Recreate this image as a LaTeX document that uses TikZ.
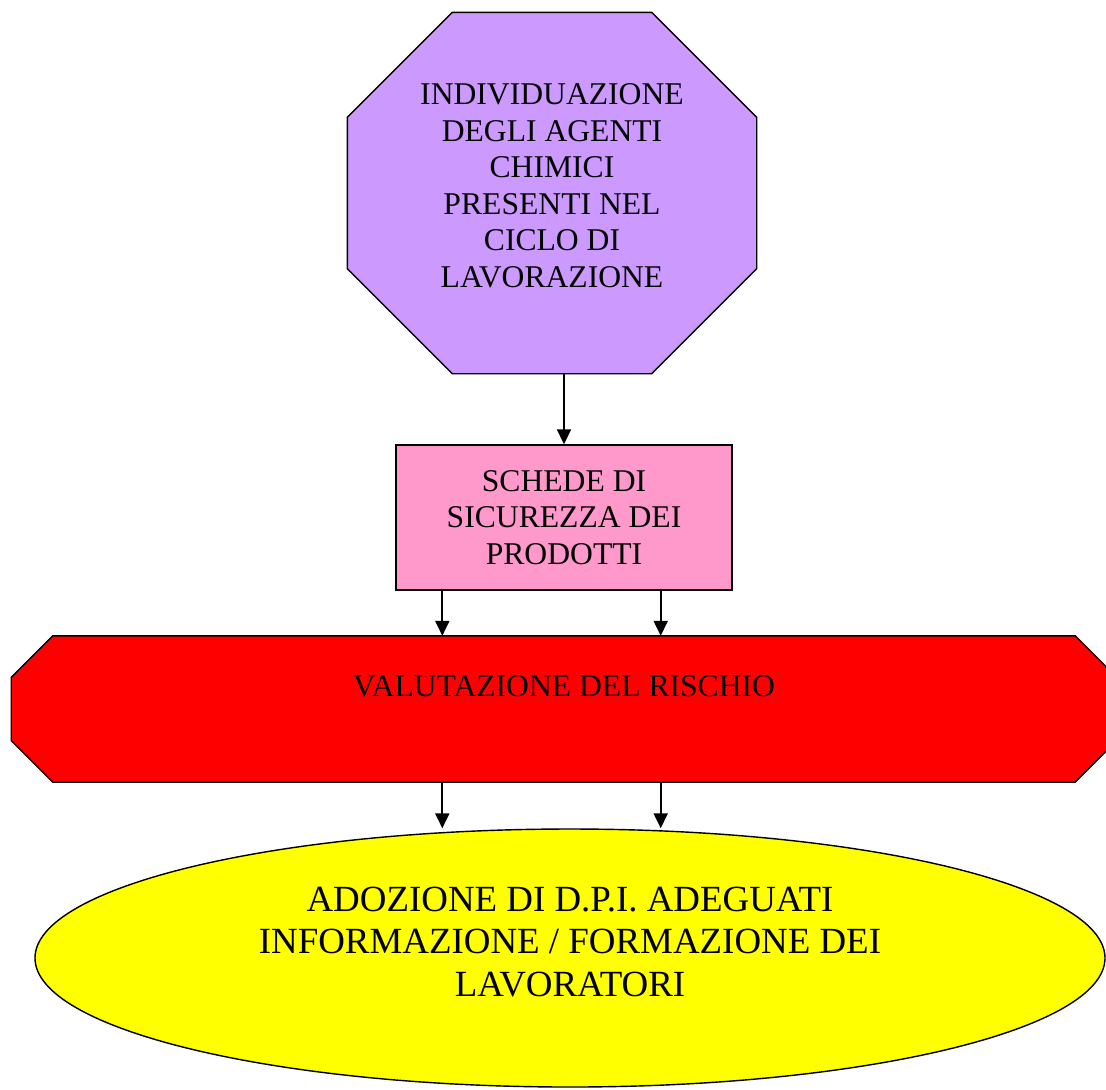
\documentclass[tikz,border=0pt]{standalone}
\usepackage{fontspec}
\setmainfont{Liberation Serif}
\usetikzlibrary{shapes.geometric, arrows.meta, positioning, calc}

\definecolor{lilla}{HTML}{CC99FF}
\definecolor{rosa}{HTML}{FF99CC}
\definecolor{rosso}{HTML}{FF0000}
\definecolor{giallo}{HTML}{FFFF00}

\pgfdeclarelayer{sfondo}
\pgfsetlayers{sfondo,main}

% bordo smussato dietro un nodo: #1 nodo, #2 smusso, #3 colore
\newcommand{\smussa}[3]{%
  \begin{pgfonlayer}{sfondo}
  \draw[line width=0.8pt, fill=#3] ([xshift=#2]#1.north west) -- ([xshift=-#2]#1.north east)
    -- ([yshift=-#2]#1.north east) -- ([yshift=#2]#1.south east)
    -- ([xshift=-#2]#1.south east) -- ([xshift=#2]#1.south west)
    -- ([yshift=#2]#1.south west) -- ([yshift=-#2]#1.north west) -- cycle;
  \end{pgfonlayer}}

\begin{document}
\begin{tikzpicture}[
    box/.style={line width=0.8pt, align=center, inner sep=0pt,
        font=\fontsize{18}{20.8}\selectfont},
    freccia/.style={-{Triangle[width=0.28cm, length=0.3cm]}, line width=1.1pt}
]
\useasboundingbox (0,0) rectangle (22.12,-21.78);

% Agenti chimici
\node[box, minimum width=8.16cm, minimum height=7.2cm, text depth=8.5pt] (agenti) at (11.04,-3.86)
    {INDIVIDUAZIONE\\DEGLI AGENTI\\CHIMICI\\PRESENTI NEL\\CICLO DI\\LAVORAZIONE};
\smussa{agenti}{2.1cm}{lilla}

% Schede di sicurezza
\node[box, draw, rectangle, minimum width=6.72cm, minimum height=2.9cm, fill=rosa] (schede) at (11.28,-10.35)
    {SCHEDE DI\\SICUREZZA DEI\\PRODOTTI};

% Valutazione
\node[box, minimum width=22.08cm, minimum height=2.9cm, text depth=26.5pt] (valutazione) at (11.28,-14.18)
    {VALUTAZIONE DEL RISCHIO};
\smussa{valutazione}{0.83cm}{rosso}

% Adozione DPI
\node[box, draw, ellipse, minimum width=21.4cm, minimum height=5.16cm, fill=giallo,
    font=\fontsize{21}{24.2}\selectfont, text depth=18.5pt] (adozione) at (11.4,-19.16)
    {ADOZIONE DI D.P.I. ADEGUATI\\INFORMAZIONE / FORMAZIONE DEI\\LAVORATORI};

% Frecce
\coordinate (sx) at ($(schede.south west)+(0.94,0)$);
\coordinate (dx) at ($(schede.south east)+(-1.44,0)$);
\draw[freccia] (schede.north |- agenti.south) -- (schede.north);
\foreach \c in {sx, dx} {
    \draw[freccia] (\c) -- (\c |- valutazione.north);
    \draw[freccia] (\c |- valutazione.south) -- (\c |- adozione.north);
}
\end{tikzpicture}
\end{document}
